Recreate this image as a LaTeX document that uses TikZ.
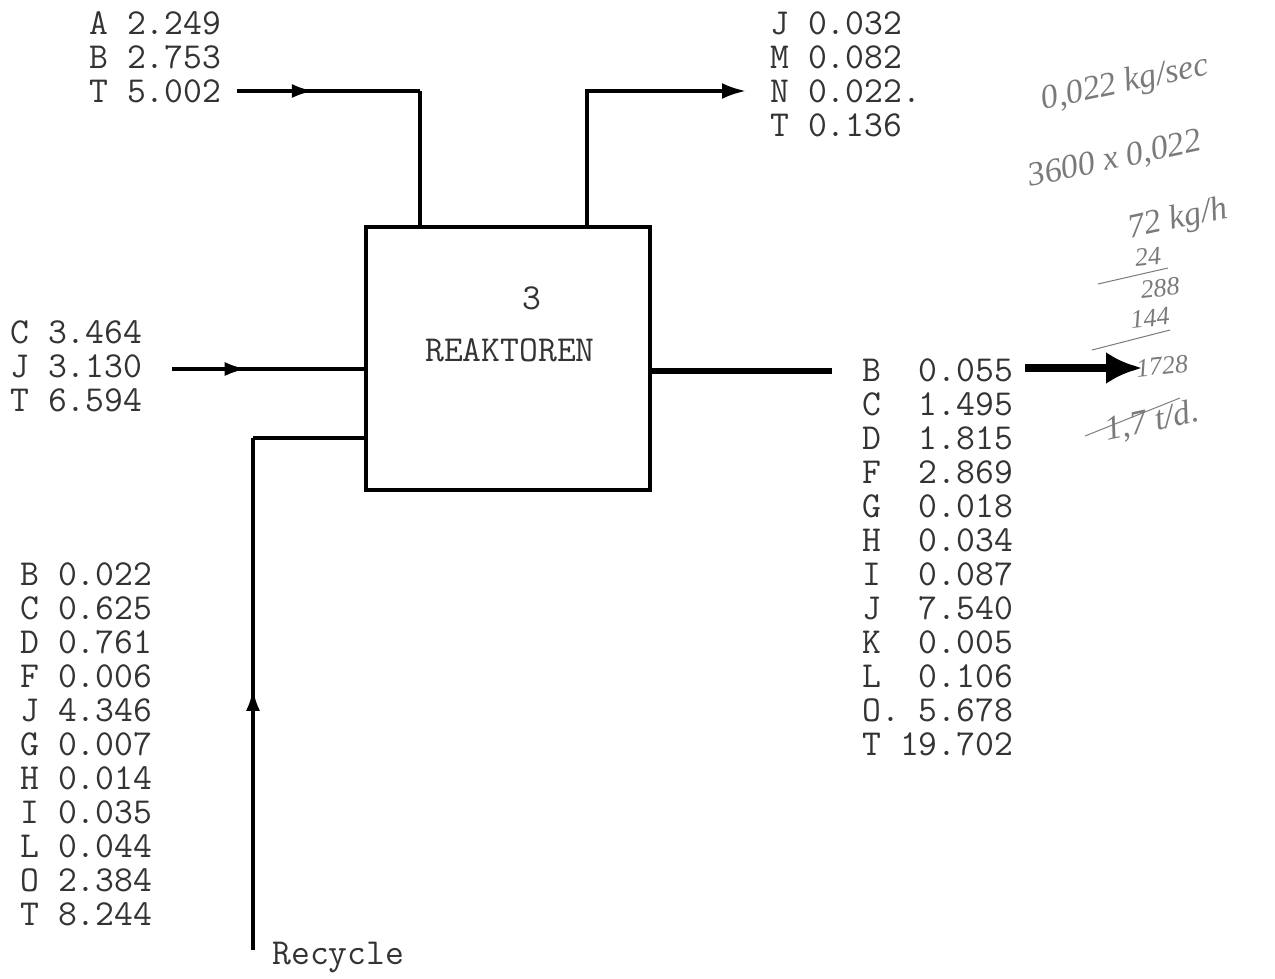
\documentclass[tikz,border=0pt]{standalone}
\usepackage{fontspec}
\newfontfamily\hand{Liberation Serif}
\usetikzlibrary{arrows.meta,decorations.markings}
\definecolor{ink}{HTML}{333333}
\definecolor{pencil}{HTML}{7A7A7A}
\tikzset{
  typed/.style={font=\ttfamily\fontsize{18.3}{17}\selectfont, text=ink, inner sep=0pt, align=left},
  pipe/.style={line width=1.8pt, black},
  boxline/.style={draw, line width=2.4pt, black, minimum width=142pt, minimum height=131.5pt, inner sep=0pt},
  midarrow/.style={postaction={decorate}, decoration={markings, mark=at position #1 with {\arrow{Latex[length=11pt,width=7pt]}}}},
  handw/.style={font=\hand\itshape\fontsize{17}{18}\selectfont, text=pencil, inner sep=0pt, rotate=12},
  handn/.style={font=\hand\itshape\fontsize{13}{14}\selectfont, text=pencil, inner sep=0pt, rotate=6},
  bigarrow/.style={line width=4pt, -{Latex[length=18pt,width=16pt]}}
}
\begin{document}
\begin{tikzpicture}[x=0.5pt,y=-0.5pt]
\useasboundingbox (0,0) rectangle (1275,979);

% reactor
\node[boxline] (R) at (508,358.5) {};
\node[typed] (lbl3) at (532,298) {3};
\node[typed] (lblR) at (510,350) {REAKTOREN};

% feed 1 (top left)
\node[typed, anchor=north west] (feedA) at (89,11) {A 2.249\\B 2.753\\T 5.002};
\coordinate (f1s) at (237,91);
\coordinate (f1b) at (420,91);
\draw[pipe, midarrow=0.42] (f1s) -- (f1b);
\draw[pipe] (f1b) -- (f1b |- R.north);

% gas outlet (top right)
\node[typed, anchor=north west] (gasout) at (770,11) {J 0.032\\M 0.082\\N 0.022.\\T 0.136};
\coordinate (g1b) at (587,91);
\coordinate (g1e) at (746,91);
\draw[pipe, -{Latex[length=12pt,width=8pt]}] (g1b |- R.north) -- (g1b) -- (g1e);

% feed 2 (left)
\node[typed, anchor=north west] (feedC) at (10,320) {C 3.464\\J 3.130\\T 6.594};
\coordinate (f2s) at (172,369);
\draw[pipe, midarrow=0.39] (f2s) -- (f2s -| R.west);

% recycle
\node[typed, anchor=north west] (recyc) at (20,562) {B 0.022\\C 0.625\\D 0.761\\F 0.006\\J 4.346\\G 0.007\\H 0.014\\I 0.035\\L 0.044\\O 2.384\\T 8.244};
\coordinate (r1s) at (253,950);
\coordinate (r1b) at (253,438);
\draw[pipe, midarrow=0.51] (r1s) -- (r1b);
\draw[pipe] (r1b) -- (r1b -| R.west);
\node[typed, anchor=base west] (recl) at (272,964) {Recycle};

% product
\node[typed, anchor=north west] (prod) at (862,358) {B\ \ 0.055\\C\ \ 1.495\\D\ \ 1.815\\F\ \ 2.869\\G\ \ 0.018\\H\ \ 0.034\\I\ \ 0.087\\J\ \ 7.540\\K\ \ 0.005\\L\ \ 0.106\\O.\ 5.678\\T 19.702};
\coordinate (p1e) at (832,371);
\draw[line width=3pt] (R.east |- p1e) -- (p1e);
\coordinate (p2s) at (1025,368);
\coordinate (p2e) at (1142,368);
\draw[bigarrow] (p2s) -- (p2e);

% handwritten notes
\node[handw] (h1) at (1125,84) {0,022 kg/sec};
\node[handw] (h2) at (1115,160) {3600 x 0,022};
\node[handw] (h3) at (1178,220) {72 kg/h};
\node[handn] (h4) at (1148,257) {24};
\node[handn] (h5) at (1160,288) {288};
\node[handn] (h6) at (1150,318) {144};
\node[handn] (h7) at (1162,366) {1728};
\node[handw] (h8) at (1152,422) {1,7 t/d.};
\draw[pencil, line width=0.5pt] (1098,284) -- (1168,268);
\draw[pencil, line width=0.5pt] (1092,350) -- (1170,330);
\draw[pencil, line width=0.5pt] (1085,436) -- (1180,398);
\end{tikzpicture}
\end{document}
